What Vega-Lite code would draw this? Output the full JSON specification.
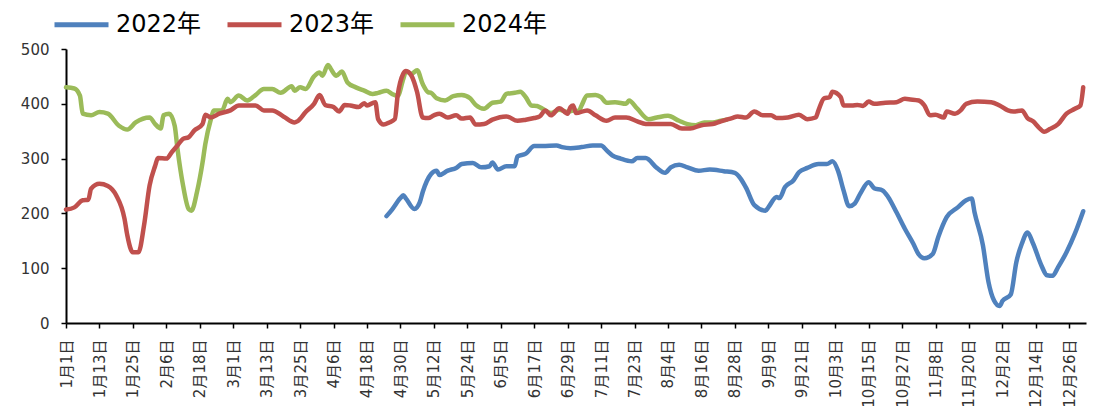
{
"$schema": "https://vega.github.io/schema/vega-lite/v6.json",
"width": 1020, "height": 274,
"autosize": {"type": "none"},
"padding": {"left": 66, "top": 49, "right": 21, "bottom": 92},
"background": "white",
"config": {"view": {"stroke": null}, "font": "DejaVu Sans, Noto Sans CJK SC"},
"data": {"values": [
{"series":"2024年","date":"2024-01-01","value":430},{"series":"2024年","date":"2024-01-04","value":428},{"series":"2024年","date":"2024-01-06","value":415},{"series":"2024年","date":"2024-01-07","value":382},{"series":"2024年","date":"2024-01-10","value":379},{"series":"2024年","date":"2024-01-13","value":385},{"series":"2024年","date":"2024-01-16","value":382},{"series":"2024年","date":"2024-01-20","value":360},{"series":"2024年","date":"2024-01-23","value":353},{"series":"2024年","date":"2024-01-26","value":366},{"series":"2024年","date":"2024-01-31","value":375},{"series":"2024年","date":"2024-02-02","value":363},{"series":"2024年","date":"2024-02-04","value":355},{"series":"2024年","date":"2024-02-05","value":379},{"series":"2024年","date":"2024-02-07","value":382},{"series":"2024年","date":"2024-02-09","value":360},{"series":"2024年","date":"2024-02-10","value":318},{"series":"2024年","date":"2024-02-12","value":251},{"series":"2024年","date":"2024-02-14","value":208},{"series":"2024年","date":"2024-02-15","value":205},{"series":"2024年","date":"2024-02-17","value":239},{"series":"2024年","date":"2024-02-19","value":293},{"series":"2024年","date":"2024-02-20","value":327},{"series":"2024年","date":"2024-02-22","value":372},{"series":"2024年","date":"2024-02-23","value":388},{"series":"2024年","date":"2024-02-26","value":388},{"series":"2024年","date":"2024-02-28","value":409},{"series":"2024年","date":"2024-02-29","value":403},{"series":"2024年","date":"2024-03-03","value":415},{"series":"2024年","date":"2024-03-06","value":406},{"series":"2024年","date":"2024-03-09","value":416},{"series":"2024年","date":"2024-03-12","value":427},{"series":"2024年","date":"2024-03-15","value":427},{"series":"2024年","date":"2024-03-18","value":420},{"series":"2024年","date":"2024-03-22","value":432},{"series":"2024年","date":"2024-03-23","value":424},{"series":"2024年","date":"2024-03-25","value":430},{"series":"2024年","date":"2024-03-27","value":427},{"series":"2024年","date":"2024-03-30","value":450},{"series":"2024年","date":"2024-04-01","value":457},{"series":"2024年","date":"2024-04-02","value":451},{"series":"2024年","date":"2024-04-04","value":471},{"series":"2024年","date":"2024-04-05","value":464},{"series":"2024年","date":"2024-04-07","value":451},{"series":"2024年","date":"2024-04-09","value":459},{"series":"2024年","date":"2024-04-11","value":439},{"series":"2024年","date":"2024-04-14","value":430},{"series":"2024年","date":"2024-04-17","value":424},{"series":"2024年","date":"2024-04-20","value":418},{"series":"2024年","date":"2024-04-22","value":420},{"series":"2024年","date":"2024-04-25","value":424},{"series":"2024年","date":"2024-04-27","value":418},{"series":"2024年","date":"2024-04-29","value":414},{"series":"2024年","date":"2024-05-01","value":445},{"series":"2024年","date":"2024-05-02","value":459},{"series":"2024年","date":"2024-05-04","value":455},{"series":"2024年","date":"2024-05-06","value":461},{"series":"2024年","date":"2024-05-08","value":436},{"series":"2024年","date":"2024-05-10","value":421},{"series":"2024年","date":"2024-05-11","value":420},{"series":"2024年","date":"2024-05-13","value":410},{"series":"2024年","date":"2024-05-16","value":406},{"series":"2024年","date":"2024-05-19","value":414},{"series":"2024年","date":"2024-05-22","value":416},{"series":"2024年","date":"2024-05-25","value":410},{"series":"2024年","date":"2024-05-27","value":398},{"series":"2024年","date":"2024-05-30","value":391},{"series":"2024年","date":"2024-06-02","value":402},{"series":"2024年","date":"2024-06-05","value":404},{"series":"2024年","date":"2024-06-07","value":418},{"series":"2024年","date":"2024-06-10","value":420},{"series":"2024年","date":"2024-06-12","value":422},{"series":"2024年","date":"2024-06-14","value":412},{"series":"2024年","date":"2024-06-16","value":397},{"series":"2024年","date":"2024-06-18","value":396},{"series":"2024年","date":"2024-06-20","value":391},{"series":"2024年","date":"2024-06-23","value":383},{"series":"2024年","date":"2024-06-26","value":389},{"series":"2024年","date":"2024-06-29","value":385},{"series":"2024年","date":"2024-07-01","value":388},{"series":"2024年","date":"2024-07-03","value":387},{"series":"2024年","date":"2024-07-04","value":397},{"series":"2024年","date":"2024-07-06","value":415},{"series":"2024年","date":"2024-07-09","value":416},{"series":"2024年","date":"2024-07-11","value":412},{"series":"2024年","date":"2024-07-13","value":402},{"series":"2024年","date":"2024-07-16","value":403},{"series":"2024年","date":"2024-07-20","value":400},{"series":"2024年","date":"2024-07-21","value":406},{"series":"2024年","date":"2024-07-24","value":391},{"series":"2024年","date":"2024-07-28","value":372},{"series":"2024年","date":"2024-07-31","value":375},{"series":"2024年","date":"2024-08-04","value":378},{"series":"2024年","date":"2024-08-08","value":369},{"series":"2024年","date":"2024-08-11","value":363},{"series":"2024年","date":"2024-08-14","value":361},{"series":"2024年","date":"2024-08-17","value":366},{"series":"2024年","date":"2024-08-20","value":366},{"series":"2024年","date":"2024-08-23","value":369},{"series":"2024年","date":"2024-08-25","value":371},
{"series":"2023年","date":"2024-01-01","value":207},{"series":"2023年","date":"2024-01-04","value":211},{"series":"2023年","date":"2024-01-07","value":224},{"series":"2023年","date":"2024-01-09","value":225},{"series":"2023年","date":"2024-01-10","value":245},{"series":"2023年","date":"2024-01-13","value":254},{"series":"2023年","date":"2024-01-16","value":250},{"series":"2023年","date":"2024-01-19","value":233},{"series":"2023年","date":"2024-01-22","value":190},{"series":"2023年","date":"2024-01-23","value":160},{"series":"2023年","date":"2024-01-25","value":129},{"series":"2023年","date":"2024-01-27","value":129},{"series":"2023年","date":"2024-01-29","value":178},{"series":"2023年","date":"2024-01-31","value":251},{"series":"2023年","date":"2024-02-02","value":287},{"series":"2023年","date":"2024-02-03","value":301},{"series":"2023年","date":"2024-02-06","value":300},{"series":"2023年","date":"2024-02-08","value":312},{"series":"2023年","date":"2024-02-10","value":324},{"series":"2023年","date":"2024-02-12","value":336},{"series":"2023年","date":"2024-02-14","value":339},{"series":"2023年","date":"2024-02-16","value":351},{"series":"2023年","date":"2024-02-19","value":363},{"series":"2023年","date":"2024-02-20","value":380},{"series":"2023年","date":"2024-02-22","value":375},{"series":"2023年","date":"2024-02-25","value":382},{"series":"2023年","date":"2024-02-29","value":388},{"series":"2023年","date":"2024-03-03","value":397},{"series":"2023年","date":"2024-03-09","value":397},{"series":"2023年","date":"2024-03-12","value":388},{"series":"2023年","date":"2024-03-15","value":388},{"series":"2023年","date":"2024-03-19","value":377},{"series":"2023年","date":"2024-03-23","value":366},{"series":"2023年","date":"2024-03-24","value":368},{"series":"2023年","date":"2024-03-27","value":385},{"series":"2023年","date":"2024-03-30","value":400},{"series":"2023年","date":"2024-04-01","value":416},{"series":"2023年","date":"2024-04-03","value":398},{"series":"2023年","date":"2024-04-06","value":394},{"series":"2023年","date":"2024-04-08","value":386},{"series":"2023年","date":"2024-04-10","value":398},{"series":"2023年","date":"2024-04-12","value":397},{"series":"2023年","date":"2024-04-15","value":394},{"series":"2023年","date":"2024-04-17","value":401},{"series":"2023年","date":"2024-04-18","value":397},{"series":"2023年","date":"2024-04-21","value":403},{"series":"2023年","date":"2024-04-22","value":372},{"series":"2023年","date":"2024-04-24","value":362},{"series":"2023年","date":"2024-04-26","value":366},{"series":"2023年","date":"2024-04-28","value":372},{"series":"2023年","date":"2024-04-29","value":415},{"series":"2023年","date":"2024-05-01","value":455},{"series":"2023年","date":"2024-05-02","value":460},{"series":"2023年","date":"2024-05-04","value":451},{"series":"2023年","date":"2024-05-06","value":421},{"series":"2023年","date":"2024-05-08","value":375},{"series":"2023年","date":"2024-05-10","value":374},{"series":"2023年","date":"2024-05-12","value":379},{"series":"2023年","date":"2024-05-14","value":382},{"series":"2023年","date":"2024-05-17","value":375},{"series":"2023年","date":"2024-05-20","value":379},{"series":"2023年","date":"2024-05-22","value":373},{"series":"2023年","date":"2024-05-25","value":375},{"series":"2023年","date":"2024-05-27","value":362},{"series":"2023年","date":"2024-05-30","value":363},{"series":"2023年","date":"2024-06-02","value":371},{"series":"2023年","date":"2024-06-07","value":377},{"series":"2023年","date":"2024-06-11","value":369},{"series":"2023年","date":"2024-06-14","value":371},{"series":"2023年","date":"2024-06-17","value":374},{"series":"2023年","date":"2024-06-19","value":377},{"series":"2023年","date":"2024-06-21","value":388},{"series":"2023年","date":"2024-06-23","value":379},{"series":"2023年","date":"2024-06-26","value":392},{"series":"2023年","date":"2024-06-29","value":382},{"series":"2023年","date":"2024-06-30","value":394},{"series":"2023年","date":"2024-07-01","value":397},{"series":"2023年","date":"2024-07-02","value":383},{"series":"2023年","date":"2024-07-06","value":388},{"series":"2023年","date":"2024-07-09","value":379},{"series":"2023年","date":"2024-07-13","value":369},{"series":"2023年","date":"2024-07-16","value":375},{"series":"2023年","date":"2024-07-20","value":375},{"series":"2023年","date":"2024-07-24","value":368},{"series":"2023年","date":"2024-07-27","value":363},{"series":"2023年","date":"2024-07-31","value":363},{"series":"2023年","date":"2024-08-05","value":363},{"series":"2023年","date":"2024-08-09","value":355},{"series":"2023年","date":"2024-08-12","value":355},{"series":"2023年","date":"2024-08-16","value":361},{"series":"2023年","date":"2024-08-20","value":363},{"series":"2023年","date":"2024-08-23","value":368},{"series":"2023年","date":"2024-08-27","value":374},{"series":"2023年","date":"2024-08-29","value":377},{"series":"2023年","date":"2024-09-01","value":375},{"series":"2023年","date":"2024-09-04","value":386},{"series":"2023年","date":"2024-09-07","value":379},{"series":"2023年","date":"2024-09-10","value":379},{"series":"2023年","date":"2024-09-12","value":374},{"series":"2023年","date":"2024-09-16","value":375},{"series":"2023年","date":"2024-09-20","value":380},{"series":"2023年","date":"2024-09-23","value":372},{"series":"2023年","date":"2024-09-26","value":375},{"series":"2023年","date":"2024-09-27","value":388},{"series":"2023年","date":"2024-09-29","value":410},{"series":"2023年","date":"2024-10-01","value":412},{"series":"2023年","date":"2024-10-02","value":422},{"series":"2023年","date":"2024-10-05","value":412},{"series":"2023年","date":"2024-10-06","value":397},{"series":"2023年","date":"2024-10-09","value":397},{"series":"2023年","date":"2024-10-11","value":398},{"series":"2023年","date":"2024-10-13","value":396},{"series":"2023年","date":"2024-10-15","value":404},{"series":"2023年","date":"2024-10-17","value":400},{"series":"2023年","date":"2024-10-21","value":402},{"series":"2023年","date":"2024-10-25","value":403},{"series":"2023年","date":"2024-10-28","value":409},{"series":"2023年","date":"2024-10-30","value":408},{"series":"2023年","date":"2024-11-02","value":406},{"series":"2023年","date":"2024-11-04","value":397},{"series":"2023年","date":"2024-11-06","value":379},{"series":"2023年","date":"2024-11-08","value":380},{"series":"2023年","date":"2024-11-11","value":375},{"series":"2023年","date":"2024-11-12","value":386},{"series":"2023年","date":"2024-11-15","value":382},{"series":"2023年","date":"2024-11-17","value":388},{"series":"2023年","date":"2024-11-19","value":400},{"series":"2023年","date":"2024-11-23","value":404},{"series":"2023年","date":"2024-11-28","value":403},{"series":"2023年","date":"2024-12-01","value":397},{"series":"2023年","date":"2024-12-04","value":388},{"series":"2023年","date":"2024-12-06","value":386},{"series":"2023年","date":"2024-12-09","value":388},{"series":"2023年","date":"2024-12-11","value":374},{"series":"2023年","date":"2024-12-13","value":368},{"series":"2023年","date":"2024-12-15","value":357},{"series":"2023年","date":"2024-12-17","value":349},{"series":"2023年","date":"2024-12-19","value":354},{"series":"2023年","date":"2024-12-22","value":363},{"series":"2023年","date":"2024-12-25","value":382},{"series":"2023年","date":"2024-12-28","value":391},{"series":"2023年","date":"2024-12-30","value":397},{"series":"2023年","date":"2024-12-31","value":430},
{"series":"2022年","date":"2024-04-25","value":195},{"series":"2022年","date":"2024-04-27","value":207},{"series":"2022年","date":"2024-04-30","value":228},{"series":"2022年","date":"2024-05-01","value":233},{"series":"2022年","date":"2024-05-02","value":227},{"series":"2022年","date":"2024-05-05","value":208},{"series":"2022年","date":"2024-05-07","value":221},{"series":"2022年","date":"2024-05-08","value":239},{"series":"2022年","date":"2024-05-11","value":272},{"series":"2022年","date":"2024-05-13","value":278},{"series":"2022年","date":"2024-05-14","value":270},{"series":"2022年","date":"2024-05-17","value":278},{"series":"2022年","date":"2024-05-20","value":283},{"series":"2022年","date":"2024-05-22","value":290},{"series":"2022年","date":"2024-05-26","value":292},{"series":"2022年","date":"2024-05-29","value":284},{"series":"2022年","date":"2024-06-01","value":286},{"series":"2022年","date":"2024-06-02","value":293},{"series":"2022年","date":"2024-06-04","value":280},{"series":"2022年","date":"2024-06-07","value":286},{"series":"2022年","date":"2024-06-10","value":286},{"series":"2022年","date":"2024-06-11","value":304},{"series":"2022年","date":"2024-06-14","value":309},{"series":"2022年","date":"2024-06-17","value":323},{"series":"2022年","date":"2024-06-20","value":323},{"series":"2022年","date":"2024-06-25","value":324},{"series":"2022年","date":"2024-06-27","value":321},{"series":"2022年","date":"2024-06-30","value":319},{"series":"2022年","date":"2024-07-04","value":321},{"series":"2022年","date":"2024-07-08","value":324},{"series":"2022年","date":"2024-07-11","value":324},{"series":"2022年","date":"2024-07-13","value":315},{"series":"2022年","date":"2024-07-15","value":306},{"series":"2022年","date":"2024-07-18","value":300},{"series":"2022年","date":"2024-07-22","value":295},{"series":"2022年","date":"2024-07-24","value":301},{"series":"2022年","date":"2024-07-27","value":301},{"series":"2022年","date":"2024-07-31","value":283},{"series":"2022年","date":"2024-08-03","value":274},{"series":"2022年","date":"2024-08-05","value":284},{"series":"2022年","date":"2024-08-08","value":289},{"series":"2022年","date":"2024-08-11","value":284},{"series":"2022年","date":"2024-08-15","value":278},{"series":"2022年","date":"2024-08-19","value":280},{"series":"2022年","date":"2024-08-24","value":277},{"series":"2022年","date":"2024-08-28","value":274},{"series":"2022年","date":"2024-08-30","value":264},{"series":"2022年","date":"2024-09-01","value":247},{"series":"2022年","date":"2024-09-04","value":215},{"series":"2022年","date":"2024-09-08","value":205},{"series":"2022年","date":"2024-09-09","value":211},{"series":"2022年","date":"2024-09-12","value":230},{"series":"2022年","date":"2024-09-13","value":228},{"series":"2022年","date":"2024-09-15","value":248},{"series":"2022年","date":"2024-09-18","value":260},{"series":"2022年","date":"2024-09-20","value":275},{"series":"2022年","date":"2024-09-23","value":283},{"series":"2022年","date":"2024-09-27","value":290},{"series":"2022年","date":"2024-09-30","value":290},{"series":"2022年","date":"2024-10-02","value":295},{"series":"2022年","date":"2024-10-04","value":278},{"series":"2022年","date":"2024-10-06","value":242},{"series":"2022年","date":"2024-10-08","value":213},{"series":"2022年","date":"2024-10-10","value":218},{"series":"2022年","date":"2024-10-12","value":236},{"series":"2022年","date":"2024-10-15","value":257},{"series":"2022年","date":"2024-10-17","value":246},{"series":"2022年","date":"2024-10-20","value":242},{"series":"2022年","date":"2024-10-22","value":230},{"series":"2022年","date":"2024-10-25","value":202},{"series":"2022年","date":"2024-10-28","value":172},{"series":"2022年","date":"2024-10-31","value":145},{"series":"2022年","date":"2024-11-02","value":125},{"series":"2022年","date":"2024-11-04","value":118},{"series":"2022年","date":"2024-11-07","value":126},{"series":"2022年","date":"2024-11-09","value":157},{"series":"2022年","date":"2024-11-12","value":193},{"series":"2022年","date":"2024-11-16","value":211},{"series":"2022年","date":"2024-11-19","value":224},{"series":"2022年","date":"2024-11-21","value":227},{"series":"2022年","date":"2024-11-22","value":202},{"series":"2022年","date":"2024-11-25","value":142},{"series":"2022年","date":"2024-11-27","value":75},{"series":"2022年","date":"2024-11-29","value":41},{"series":"2022年","date":"2024-12-01","value":31},{"series":"2022年","date":"2024-12-02","value":40},{"series":"2022年","date":"2024-12-05","value":52},{"series":"2022年","date":"2024-12-07","value":111},{"series":"2022年","date":"2024-12-09","value":145},{"series":"2022年","date":"2024-12-11","value":165},{"series":"2022年","date":"2024-12-13","value":145},{"series":"2022年","date":"2024-12-16","value":105},{"series":"2022年","date":"2024-12-18","value":87},{"series":"2022年","date":"2024-12-20","value":86},{"series":"2022年","date":"2024-12-22","value":102},{"series":"2022年","date":"2024-12-25","value":129},{"series":"2022年","date":"2024-12-28","value":163},{"series":"2022年","date":"2024-12-31","value":204}
]},
"mark": {"type": "line", "strokeWidth": 4.5, "interpolate": "monotone", "strokeJoin": "round", "strokeCap": "round"},
"encoding": {
"x": {"field": "date", "type": "temporal",
 "scale": {"type": "utc", "domain": [{"year": 2024, "month": 1, "date": 1, "utc": true}, {"year": 2025, "month": 1, "date": 1, "utc": true}]},
 "axis": {"title": null, "format": "%-m月%-d日", "labelAngle": 270, "labelAlign": "right", "labelBaseline": "middle", "labelFontSize": 15, "labelColor": "#333333", "labelPadding": 11, "tickSize": 5, "tickColor": "#000000", "tickWidth": 1.5, "domainColor": "#000000", "domainWidth": 2, "grid": false, "labelOverlap": false, "labelFlush": false, "labelBound": false,
  "values": [
   {"year":2024,"month":1,"date":1,"utc":true},{"year":2024,"month":1,"date":13,"utc":true},{"year":2024,"month":1,"date":25,"utc":true},{"year":2024,"month":2,"date":6,"utc":true},{"year":2024,"month":2,"date":18,"utc":true},{"year":2024,"month":3,"date":1,"utc":true},{"year":2024,"month":3,"date":13,"utc":true},{"year":2024,"month":3,"date":25,"utc":true},{"year":2024,"month":4,"date":6,"utc":true},{"year":2024,"month":4,"date":18,"utc":true},{"year":2024,"month":4,"date":30,"utc":true},{"year":2024,"month":5,"date":12,"utc":true},{"year":2024,"month":5,"date":24,"utc":true},{"year":2024,"month":6,"date":5,"utc":true},{"year":2024,"month":6,"date":17,"utc":true},{"year":2024,"month":6,"date":29,"utc":true},{"year":2024,"month":7,"date":11,"utc":true},{"year":2024,"month":7,"date":23,"utc":true},{"year":2024,"month":8,"date":4,"utc":true},{"year":2024,"month":8,"date":16,"utc":true},{"year":2024,"month":8,"date":28,"utc":true},{"year":2024,"month":9,"date":9,"utc":true},{"year":2024,"month":9,"date":21,"utc":true},{"year":2024,"month":10,"date":3,"utc":true},{"year":2024,"month":10,"date":15,"utc":true},{"year":2024,"month":10,"date":27,"utc":true},{"year":2024,"month":11,"date":8,"utc":true},{"year":2024,"month":11,"date":20,"utc":true},{"year":2024,"month":12,"date":2,"utc":true},{"year":2024,"month":12,"date":14,"utc":true},{"year":2024,"month":12,"date":26,"utc":true}
  ]}},
"y": {"field": "value", "type": "quantitative", "scale": {"domain": [0, 500]},
 "axis": {"title": null, "values": [0, 100, 200, 300, 400, 500], "labelFontSize": 15, "labelColor": "#333333", "labelPadding": 12, "tickSize": 5, "tickColor": "#000000", "tickWidth": 1.5, "domainColor": "#000000", "domainWidth": 2, "grid": false}},
"color": {"field": "series", "type": "nominal",
 "scale": {"domain": ["2022年", "2023年", "2024年"], "range": ["#4F81BD", "#C0504D", "#9BBB59"]},
 "legend": {"title": null, "orient": "none", "legendX": -14, "legendY": -54, "direction": "horizontal", "symbolType": "stroke", "symbolSize": 2916, "symbolStrokeWidth": 5, "labelFontSize": 24, "labelColor": "#000000", "labelOffset": 5, "columnPadding": 15, "labelLimit": 300}}
}
}
